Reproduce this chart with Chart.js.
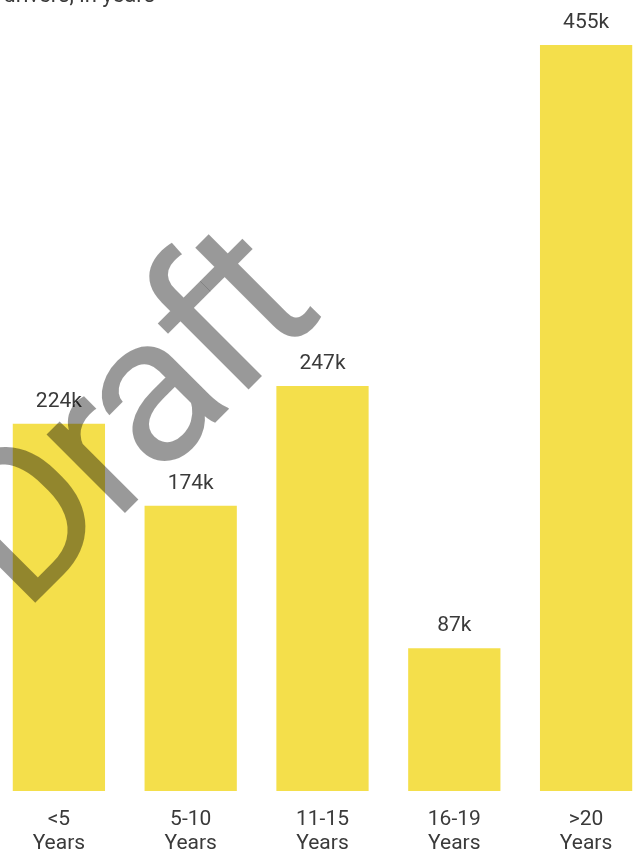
<!DOCTYPE html>
<html>
<head>
<meta charset="utf-8">
<script src="https://cdn.jsdelivr.net/npm/chart.js@4.4.0/dist/chart.umd.min.js"></script>
<style>
  html, body { margin: 0; padding: 0; background: #fff; overflow: hidden; }
  body { width: 634px; height: 861px; position: relative; font-family: Roboto, "Noto Sans", sans-serif; }
  #title { position: absolute; top: -18px; right: 479px; font-size: 22px; color: #3a3a3a; white-space: nowrap; }
  #wrap { position: absolute; left: -7px; top: 0; width: 659px; height: 861px; }
</style>
</head>
<body>
<div id="wrap"><canvas id="chart"></canvas></div>
<div id="title">Experience of drivers, in years</div>
<script>
const CATEGORIES = [["<5", "Years"], ["5-10", "Years"], ["11-15", "Years"], ["16-19", "Years"], [">20", "Years"]];
const VALUES = [224, 174, 247, 87, 455];
const VALUE_LABELS = ["224k", "174k", "247k", "87k", "455k"];

const TEXT = "#3a3a3a";
const YELLOW = "#f4df4b";
const FONT = "Roboto, 'Noto Sans', sans-serif";

// value labels above each bar
const barLabels = {
  id: "barLabels",
  afterDatasetsDraw(chart) {
    const ctx = chart.ctx;
    const meta = chart.getDatasetMeta(0);
    ctx.save();
    ctx.font = "21px " + FONT;
    ctx.fillStyle = TEXT;
    ctx.textAlign = "center";
    ctx.textBaseline = "alphabetic";
    meta.data.forEach((bar, i) => {
      ctx.fillText(VALUE_LABELS[i], bar.x, bar.y - 17);
    });
    ctx.restore();
  },
};

// "Draft" watermark across the chart
const watermark = {
  id: "watermark",
  afterDraw(chart) {
    const ctx = chart.ctx;
    ctx.save();
    ctx.translate(7 + 23, 615);
    ctx.rotate(-Math.PI / 4);
    ctx.font = "210px " + FONT;
    ctx.letterSpacing = "-8px";
    ctx.fillStyle = "rgba(0,0,0,0.4)";
    ctx.textAlign = "left";
    ctx.textBaseline = "alphabetic";
    ctx.fillText("Draft", 0, 0);
    ctx.restore();
  },
};

new Chart(document.getElementById("chart"), {
  type: "bar",
  data: {
    labels: CATEGORIES,
    datasets: [{
      data: VALUES,
      backgroundColor: YELLOW,
      borderWidth: 0,
      categoryPercentage: 0.7,
      barPercentage: 1,
    }],
  },
  options: {
    responsive: true,
    maintainAspectRatio: false,
    animation: false,
    layout: { padding: { top: 45, left: 0, right: 0, bottom: 0 } },
    plugins: {
      legend: { display: false },
      tooltip: { enabled: false },
    },
    scales: {
      y: { display: false, min: 0, max: 455 },
      x: {
        grid: { display: false, drawTicks: false },
        border: { display: false },
        ticks: {
          color: TEXT,
          padding: 17,
          font: { family: FONT, size: 21, lineHeight: 1.15 },
        },
        afterFit(scale) { scale.height = 70; },
      },
    },
  },
  plugins: [barLabels, watermark],
});
</script>
</body>
</html>
